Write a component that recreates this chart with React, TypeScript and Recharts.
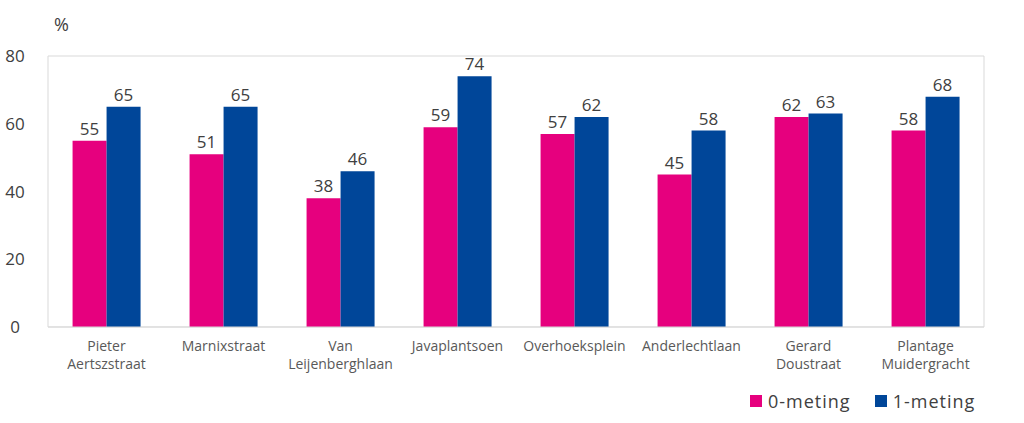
import { Bar, BarChart, CartesianGrid, LabelList, Legend, XAxis, YAxis } from 'recharts'

const streets = [
  'Pieter Aertszstraat',
  'Marnixstraat',
  'Van Leijenberghlaan',
  'Javaplantsoen',
  'Overhoeksplein',
  'Anderlechtlaan',
  'Gerard Doustraat',
  'Plantage Muidergracht',
]
const meting0 = [55, 51, 38, 59, 57, 45, 62, 58]
const meting1 = [65, 65, 46, 74, 62, 58, 63, 68]
const yTicks = [0, 20, 40, 60, 80]

const series = [
  { key: 'm0', name: '0-meting', color: '#E6007E' },
  { key: 'm1', name: '1-meting', color: '#004699' },
]

const data = streets.map((street, i) => ({ street, m0: meting0[i], m1: meting1[i] }))

const FONT = '"Open Sans", sans-serif'
const TEXT = '#404040'
const GRID = '#d9d9d9'

function StreetTick({ x, y, payload }: any) {
  const words = String(payload.value).split(' ')
  return (
    <text x={x} y={y} textAnchor="middle" fill="#595959" fontSize={14} fontFamily={FONT}>
      {words.map((w, i) => (
        <tspan key={i} x={x} dy={i === 0 ? 16 : 18}>
          {w}
        </tspan>
      ))}
    </text>
  )
}

function ValueTick({ y, payload }: any) {
  return (
    <text x={15} y={y + 6} textAnchor="middle" fill={TEXT} fontSize={17} fontFamily={FONT}>
      {payload.value}
    </text>
  )
}

function renderLegend() {
  return (
    <div
      style={{ display: 'flex', gap: 24, fontFamily: FONT, fontSize: 18, letterSpacing: 1, color: TEXT }}
    >
      {series.map((s) => (
        <div key={s.key} style={{ display: 'flex', alignItems: 'center', gap: 6 }}>
          <span style={{ width: 12, height: 12, background: s.color, display: 'inline-block' }} />
          <span>{s.name}</span>
        </div>
      ))}
    </div>
  )
}

export default function App() {
  return (
    <div style={{ position: 'absolute', left: 0, top: 0, width: 1024, height: 423, background: '#fff' }}>
      <div
        style={{ position: 'absolute', left: 54, top: 12, fontFamily: FONT, fontSize: 18, color: TEXT }}
      >
        %
      </div>
      <BarChart
        width={1024}
        height={423}
        data={data}
        margin={{ top: 56, right: 0, left: 0, bottom: 16 }}
        barCategoryGap="21%"
        barGap={0}
      >
        <CartesianGrid vertical={false} stroke={GRID} />
        <XAxis
          dataKey="street"
          height={50}
          interval={0}
          tickLine={false}
          axisLine={{ stroke: GRID }}
          tick={<StreetTick />}
        />
        <YAxis
          yAxisId="left"
          width={48}
          domain={[0, 80]}
          ticks={yTicks}
          tickLine={false}
          axisLine={{ stroke: GRID }}
          tick={<ValueTick />}
        />
        <YAxis
          yAxisId="right"
          orientation="right"
          width={40}
          domain={[0, 80]}
          ticks={yTicks}
          tick={false}
          tickLine={false}
          axisLine={{ stroke: GRID }}
        />
        <Legend
          verticalAlign="bottom"
          align="right"
          height={30}
          content={renderLegend}
          wrapperStyle={{ left: 750, width: 'auto', bottom: 4 }}
        />
        {series.map((s) => (
          <Bar key={s.key} yAxisId="left" dataKey={s.key} name={s.name} fill={s.color} isAnimationActive={false}>
            <LabelList
              dataKey={s.key}
              position="top"
              offset={6}
              fill={TEXT}
              fontSize={17}
              fontFamily={FONT}
            />
          </Bar>
        ))}
      </BarChart>
    </div>
  )
}
